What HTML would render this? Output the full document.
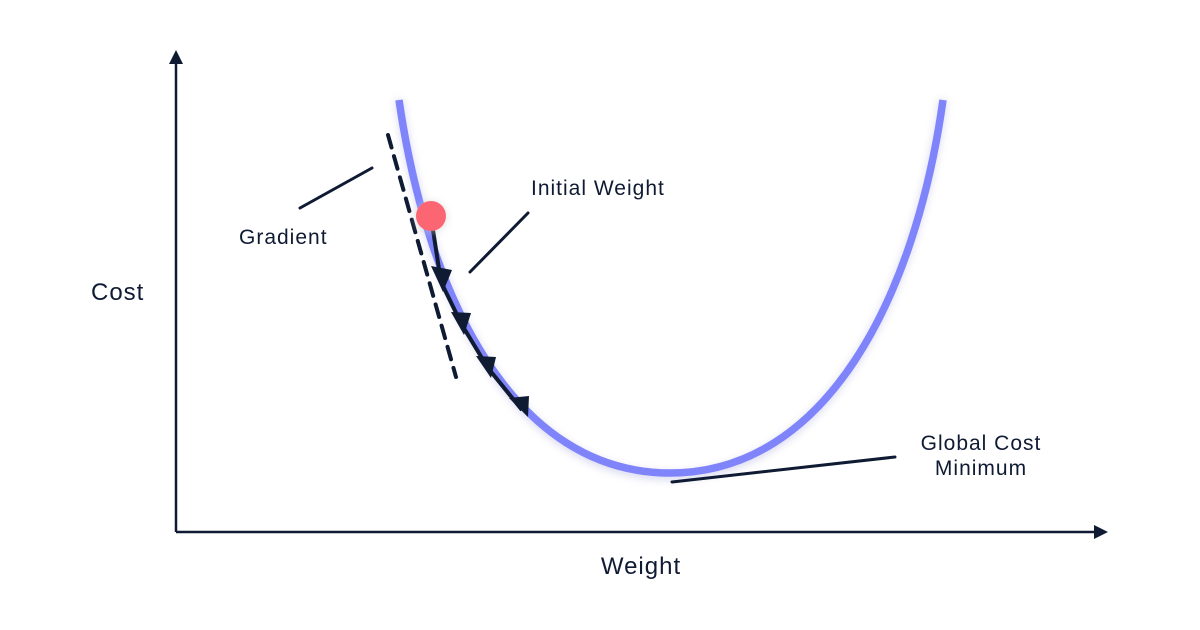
<!DOCTYPE html>
<html><head><style>
body{margin:0;background:#fff;}
svg{display:block;font-family:"Liberation Sans",sans-serif;}
</style></head><body>
<svg width="1200" height="630" viewBox="0 0 1200 630">
<defs>
<filter id="sh" x="-20%" y="-20%" width="140%" height="140%"><feGaussianBlur stdDeviation="4"/></filter>
</defs>
<g stroke="#0f1a33" stroke-width="2.5" fill="#0f1a33">
<line x1="176" y1="532" x2="176" y2="60"/>
<polygon points="169,64 176,50 183,64" stroke="none"/>
<line x1="176" y1="532" x2="1096" y2="532"/>
<polygon points="1094,525 1108,532 1094,539" stroke="none"/>
</g>
<path d="M399,100 C428,300 515,476 670,476 C825,476 915,300 943,100" fill="none" stroke="#c8c9e8" stroke-width="8" filter="url(#sh)" opacity="0.7"/>
<path d="M399,100 C428,300 515,473 670,473 C825,473 915,300 943,100" fill="none" stroke="#7f84fb" stroke-width="7.5"/>
<line x1="388" y1="135" x2="456" y2="377" stroke="#0f1a33" stroke-width="4" stroke-dasharray="13,9" stroke-linecap="round"/>
<polyline points="431,217 441,282 462,325 488,368 522,410" fill="none" stroke="#0f1a33" stroke-width="4"/>
<g fill="#0f1a33">
<polygon points="431,266 452,270 443,292"/>
<polygon points="451,312 471,313 464,335"/>
<polygon points="476,356 496,357 491,378"/>
<polygon points="509,398 529,396 528,417"/>
</g>
<circle cx="431" cy="217" r="16" fill="#cccccc" opacity="0.5" filter="url(#sh)"/>
<circle cx="431" cy="216" r="15" fill="#fc6672"/>
<g stroke="#0f1a33" stroke-width="3" stroke-linecap="round">
<line x1="300" y1="208" x2="372" y2="168"/>
<line x1="470" y1="272" x2="528" y2="213"/>
<line x1="672" y1="482" x2="895" y2="457"/>
</g>
<g fill="#0f1a33" font-size="21" letter-spacing="1">
<text x="239" y="244">Gradient</text>
<text x="531" y="195">Initial Weight</text>
<text x="981" y="450" text-anchor="middle">Global Cost</text>
<text x="981" y="475" text-anchor="middle">Minimum</text>
<text x="91" y="300" font-size="24">Cost</text>
<text x="641" y="574" font-size="24" text-anchor="middle">Weight</text>
</g>
</svg>
</body></html>
